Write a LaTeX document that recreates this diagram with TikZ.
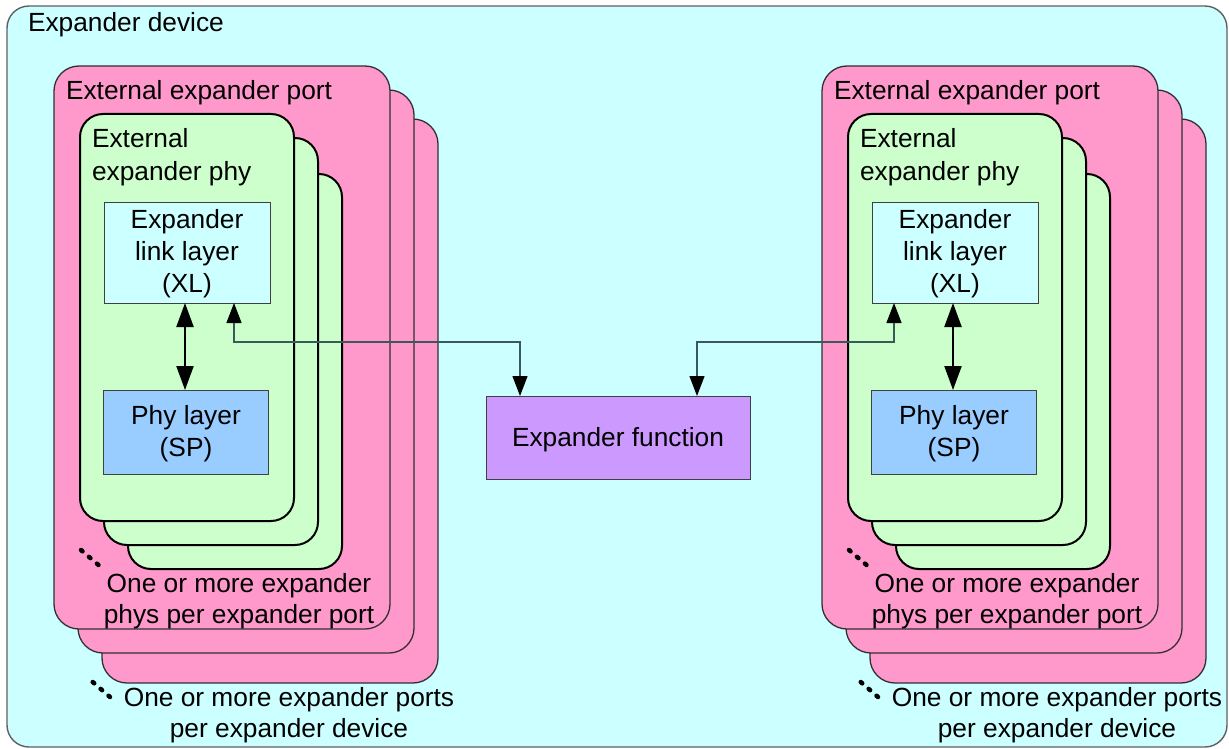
\documentclass[tikz,border=0pt]{standalone}
\usepackage{fontspec}
\setmainfont{Liberation Sans}
\usetikzlibrary{arrows.meta}
\definecolor{devfill}{HTML}{CCFFFF}
\definecolor{devline}{HTML}{606060}
\definecolor{portfill}{HTML}{FF99CC}
\definecolor{portline}{HTML}{303030}
\definecolor{phyfill}{HTML}{CCFFCC}
\definecolor{xlfill}{HTML}{CCFFFF}
\definecolor{spfill}{HTML}{99CCFF}
\definecolor{fnfill}{HTML}{CC99FF}
\definecolor{sqline}{HTML}{404040}
\definecolor{connline}{HTML}{3A5A5A}
\begin{document}
\begin{tikzpicture}[x=1pt,y=-1pt,
  every node/.style={inner sep=0pt, outer sep=0pt},
  txt/.style={font=\fontsize{26.3}{32}\selectfont, anchor=base},
  txtl/.style={txt, anchor=base west},
  devbox/.style={draw=devline, fill=devfill, line width=1.4pt, rounded corners=22pt, anchor=north west},
  portbox/.style={draw=portline, fill=portfill, line width=1.3pt, rounded corners=25pt, anchor=north west, minimum width=336pt},
  phybox/.style={draw=black, fill=phyfill, line width=2pt, rounded corners=23pt, anchor=north west, minimum width=214pt},
  sqbox/.style={draw=sqline, line width=1pt, anchor=north west},
  conn/.style={draw=connline, line width=1.3pt, {Triangle[length=20pt,width=15pt,color=black]}-{Triangle[length=20pt,width=15pt,color=black]}},
  dbl/.style={draw=black, line width=2.2pt, {Triangle[length=24pt,width=17pt]}-{Triangle[length=24pt,width=17pt]}},
  dots/.style={draw=black, line width=4.5pt, line cap=round, dash pattern=on 2pt off 8.5pt}
]
\useasboundingbox (0,0) rectangle (1229,749);
\node[devbox, minimum width=1220pt, minimum height=741pt] (dev) at (7,6) {};
\node[txtl] (devlabel) at (28,32) {Expander device};

\foreach \s/\d in {L/0,R/768}{
  \node[portbox, minimum height=564pt] (portC\s) at (102+\d,119) {};
  \node[portbox, minimum height=563pt] (portB\s) at (78+\d,90) {};
  \node[portbox, minimum height=563pt] (portA\s) at (54+\d,66) {};
  \node[txtl] (portlabel\s) at (66+\d,100) {External expander port};
  \node[phybox, minimum height=395pt] (phyC\s) at (128+\d,174) {};
  \node[phybox, minimum height=407pt] (phyB\s) at (104+\d,138) {};
  \node[phybox, minimum height=407pt] (phyA\s) at (80+\d,114) {};
  \node[txtl] (phylabelA\s) at (92+\d,148) {External};
  \node[txtl] (phylabelB\s) at (92+\d,180) {expander phy};
  \node[sqbox, fill=xlfill, minimum width=166pt, minimum height=101pt] (XL\s) at (104+\d,202) {};
  \node[txt] (xlA\s) at (187+\d,228) {Expander};
  \node[txt] (xlB\s) at (187+\d,260) {link layer};
  \node[txt] (xlC\s) at (187+\d,292) {(XL)};
  \node[sqbox, fill=spfill, minimum width=165pt, minimum height=84pt] (PH\s) at (103+\d,390) {};
  \node[txt] (spA\s) at (186+\d,424) {Phy layer};
  \node[txt] (spB\s) at (186+\d,456) {(SP)};
  \draw[dbl] ([xshift=-2pt]XL\s.south) -- ([xshift=-2pt]XL\s.south |- PH\s.north);
  \node[txt] (notephyA\s) at (239+\d,592) {One or more expander};
  \node[txt] (notephyB\s) at (239+\d,623) {phys per expander port};
  \node[txt] (noteportA\s) at (289+\d,706) {One or more expander ports};
  \node[txt] (noteportB\s) at (289+\d,737) {per expander device};
  \coordinate (dpA\s) at (81+\d,550);
  \coordinate (dpB\s) at (98.5+\d,565);
  \coordinate (ddA\s) at (92.7+\d,682);
  \coordinate (ddB\s) at (110+\d,697);
  \draw[dots] (dpA\s) -- (dpB\s);
  \draw[dots] (ddA\s) -- (ddB\s);
}

\node[sqbox, fill=fnfill, minimum width=264pt, minimum height=83pt] (fn) at (486,396) {};
\node[txt] (fnlabel) at (618,446) {Expander function};

\coordinate (bL) at (234,342);
\coordinate (aL) at (520,342);
\draw[conn] (XLL.south -| bL) -- (bL) -- (aL) -- (fn.north -| aL);
\coordinate (aR) at (697,342);
\coordinate (bR) at (894,342);
\draw[conn] (fn.north -| aR) -- (aR) -- (bR) -- (XLR.south -| bR);
\end{tikzpicture}
\end{document}
